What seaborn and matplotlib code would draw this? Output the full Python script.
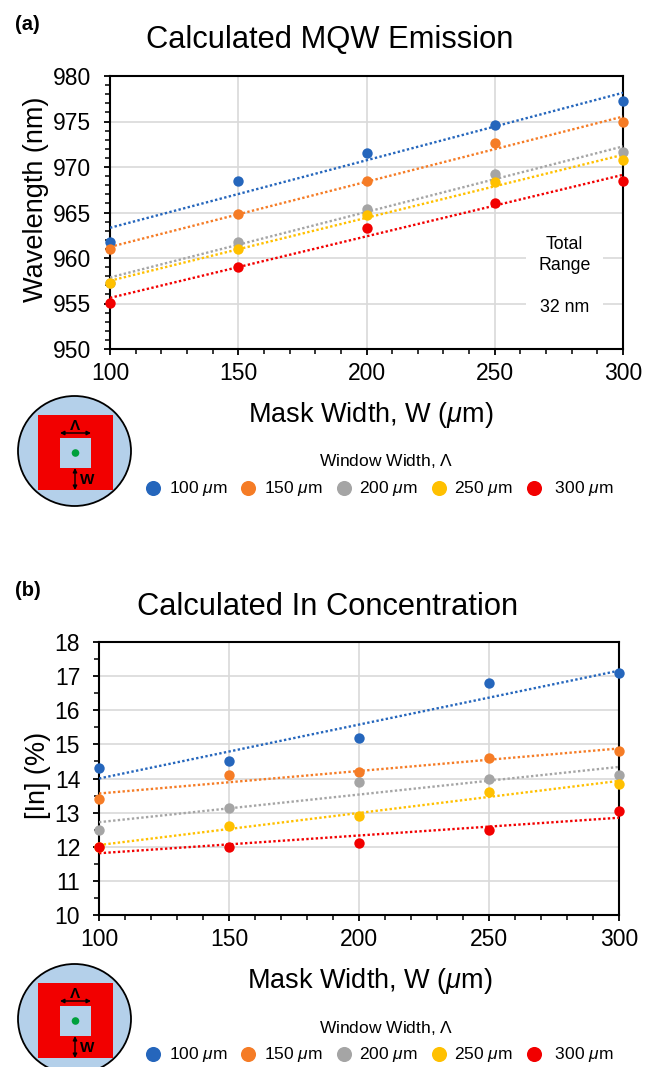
import matplotlib
matplotlib.use('Agg')
import matplotlib.pyplot as plt
import pandas as pd
import seaborn as sns
from matplotlib.patches import Circle, Ellipse, Rectangle
from matplotlib.ticker import MultipleLocator

sns.set_style('ticks')
plt.rcParams['font.family'] = ['Liberation Sans', 'DejaVu Sans']
plt.rcParams['mathtext.fontset'] = 'custom'
plt.rcParams['mathtext.it'] = 'Liberation Sans:italic'
plt.rcParams['mathtext.rm'] = 'Liberation Sans'
plt.rcParams['text.color'] = 'black'
plt.rcParams['axes.labelcolor'] = 'black'
plt.rcParams['xtick.labelcolor'] = 'black'
plt.rcParams['ytick.labelcolor'] = 'black'

mask_width = [100, 150, 200, 250, 300]
window_labels = ['100 $\\mu$m', '150 $\\mu$m', '200 $\\mu$m', '250 $\\mu$m', ' 300 $\\mu$m']
colors = ['#2566BC', '#F57C26', '#A5A5A5', '#FFC000', '#F20000']

wavelength_100 = [961.8, 968.5, 971.5, 974.6, 977.3]
wavelength_150 = [961.0, 964.8, 968.5, 972.6, 975.0]
wavelength_200 = [957.3, 961.8, 965.4, 969.2, 971.6]
wavelength_250 = [957.2, 961.0, 964.7, 968.4, 970.8]
wavelength_300 = [955.1, 959.0, 963.3, 966.0, 968.5]

indium_100 = [14.3, 14.5, 15.2, 16.8, 17.1]
indium_150 = [13.4, 14.1, 14.2, 14.6, 14.8]
indium_200 = [12.5, 13.15, 13.9, 14.0, 14.1]
indium_250 = [12.0, 12.6, 12.9, 13.6, 13.85]
indium_300 = [12.0, 12.0, 12.1, 12.5, 13.05]

W, H = 656, 1067


def px_axes(fig, left, right, top, bottom):
    return fig.add_axes([left / W, 1 - bottom / H, (right - left) / W, (bottom - top) / H])


def draw_panel(ax, series, ylim, y_major, y_minor, ylabel, label_y, xlabel_x, legend_y):
    for values, color, label in zip(series, colors, window_labels):
        df = pd.DataFrame({'w': mask_width, 'v': values})
        sns.regplot(data=df, x='w', y='v', ax=ax, ci=None, color=color, label=label,
                    scatter_kws={'s': 56, 'alpha': 1, 'linewidths': 0, 'clip_on': False, 'zorder': 4},
                    line_kws={'linestyle': (0, (1, 1)), 'linewidth': 1.7, 'zorder': 3})
    ax.set_xlim(100, 300)
    ax.set_ylim(*ylim)
    ax.xaxis.set_major_locator(MultipleLocator(50))
    ax.xaxis.set_minor_locator(MultipleLocator(10))
    ax.yaxis.set_major_locator(MultipleLocator(y_major))
    ax.yaxis.set_minor_locator(MultipleLocator(y_minor))
    ax.grid(True, which='major', color='#D9D9D9', linewidth=1.2)
    ax.set_axisbelow(True)
    ax.tick_params(which='major', length=4.5, width=1.3, color='black', labelsize=16.5)
    ax.tick_params(axis='y', which='major', pad=9)
    ax.tick_params(axis='x', which='major', pad=5)
    ax.tick_params(which='minor', length=3.5, width=1.1, color='black')
    for spine in ax.spines.values():
        spine.set_visible(True)
        spine.set_linewidth(1.5)
        spine.set_color('black')
        spine.set_zorder(2)
    ax.set_xlabel('Mask Width, W ($\\mu$m)', fontsize=19.5, labelpad=11, x=xlabel_x)
    ax.set_ylabel(ylabel, fontsize=19.5, labelpad=3, y=label_y)
    ax.legend(loc='center', bbox_to_anchor=(374.5 / W, 1 - legend_y / H), bbox_transform=ax.figure.transFigure,
              ncol=5, frameon=False, fontsize=12.5, markerscale=1.45, handletextpad=-0.1,
              columnspacing=0.2, borderpad=0, labelspacing=0)


def draw_diagram(ax, dy):
    ax.add_patch(Ellipse((74.5, 451 + dy), 113, 110, facecolor='#B4D0EA', edgecolor='black', linewidth=1.3))
    ax.add_patch(Rectangle((38, 415 + dy), 75, 75, facecolor='#F20000', edgecolor='none'))
    ax.add_patch(Rectangle((60, 438 + dy), 31, 30, facecolor='#B4D0EA', edgecolor='none'))
    ax.add_patch(Circle((75.5, 453 + dy), 3.8, facecolor='#00A03C', edgecolor='none'))
    ax.annotate('', xy=(60, 433 + dy), xytext=(91, 433 + dy),
                arrowprops={'arrowstyle': '<|-|>', 'color': 'black', 'lw': 1, 'mutation_scale': 6,
                            'shrinkA': 0, 'shrinkB': 0})
    ax.annotate('', xy=(75, 468 + dy), xytext=(75, 490 + dy),
                arrowprops={'arrowstyle': '<|-|>', 'color': 'black', 'lw': 1, 'mutation_scale': 6,
                            'shrinkA': 0, 'shrinkB': 0})
    ax.text(75, 426 + dy, '\u039b', ha='center', va='center', fontsize=11, fontweight='bold')
    ax.text(87, 480 + dy, 'W', ha='center', va='center', fontsize=11, fontweight='bold')


fig = plt.figure(figsize=(W / 100, H / 100), dpi=100)

# overlay in pixel coordinates for titles, panel letters and the mask sketch
overlay = fig.add_axes([0, 0, 1, 1], zorder=5)
overlay.set_xlim(0, W)
overlay.set_ylim(H, 0)
overlay.axis('off')
overlay.patch.set_alpha(0)

ax_a = px_axes(fig, 110, 623, 76, 349)
ax_b = px_axes(fig, 99, 619, 642, 915)

draw_panel(ax_a, [wavelength_100, wavelength_150, wavelength_200, wavelength_250, wavelength_300],
           (950, 980), 5, 1, 'Wavelength (nm)', 0.55, 0.508, 488)
draw_panel(ax_b, [indium_100, indium_150, indium_200, indium_250, indium_300],
           (10, 18), 1, 0.5, '[In] (%)', 0.513, 0.52, 1054)

ax_a.text(277.3, 958, 'Total\nRange\n\n32 nm', ha='center', va='center', fontsize=12.8, linespacing=1.3,
          bbox={'facecolor': 'white', 'edgecolor': 'none', 'pad': 9}, zorder=2.5)

overlay.text(330, 40, 'Calculated MQW Emission', ha='center', va='center', fontsize=22.2)
overlay.text(328, 607, 'Calculated In Concentration', ha='center', va='center', fontsize=22.2)
overlay.text(15, 24, '(a)', ha='left', va='center', fontsize=14.5, fontweight='bold')
overlay.text(15, 591, '(b)', ha='left', va='center', fontsize=14.5, fontweight='bold')
overlay.text(386, 461, 'Window Width, $\\Lambda$', ha='center', va='center', fontsize=12.5)
overlay.text(386, 1028, 'Window Width, $\\Lambda$', ha='center', va='center', fontsize=12.5)
draw_diagram(overlay, 0)
draw_diagram(overlay, 568)

fig.savefig('out.png', dpi=100)
